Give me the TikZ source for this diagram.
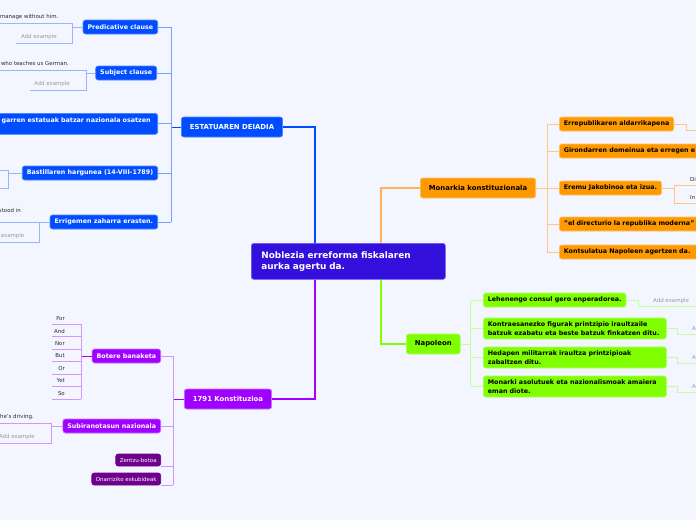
\documentclass[tikz,border=0pt]{standalone}
\usepackage{fontspec}
\setmainfont{DejaVu Sans}
\definecolor{cbg}{RGB}{243,246,254}
\definecolor{cmain}{RGB}{52,16,220}
\definecolor{cmainb}{RGB}{110,90,240}
\definecolor{cblue}{RGB}{0,76,255}
\definecolor{cblueb}{RGB}{80,130,255}
\definecolor{cbluel}{RGB}{120,160,255}
\definecolor{cbluesub}{RGB}{150,180,255}
\definecolor{corange}{RGB}{255,153,0}
\definecolor{corangeb}{RGB}{255,190,100}
\definecolor{corangel}{RGB}{255,200,130}
\definecolor{corangem}{RGB}{255,180,80}
\definecolor{cgreen}{RGB}{128,255,0}
\definecolor{cgreenb}{RGB}{170,255,90}
\definecolor{cgreenl}{RGB}{195,255,150}
\definecolor{cpurple}{RGB}{160,0,255}
\definecolor{cpurpleb}{RGB}{195,110,255}
\definecolor{cpurplel}{RGB}{210,150,255}
\definecolor{cdpurple}{RGB}{110,0,140}
\definecolor{cgreytext}{RGB}{150,152,165}
\definecolor{cdark}{RGB}{40,40,50}
\begin{document}
\begin{tikzpicture}[x=1pt,y=-1pt,
  box/.style={rounded corners=2.5pt, line width=0.7pt, inner ysep=0pt},
  centralbox/.style={box, fill=cmain, draw=cmainb, text=white, align=left,
     font=\fontsize{8.9}{11}\selectfont\bfseries, inner xsep=10pt,
     text width=174pt, minimum height=36pt},
  mainbox/.style={box, font=\fontsize{6.9}{8.5}\selectfont\bfseries, inner xsep=8.5pt, minimum height=20pt},
  subbox/.style={box, align=left, font=\fontsize{6.35}{8.4}\selectfont\bfseries, inner xsep=4.5pt, minimum height=14pt},
  tinybox/.style={box, fill=cdpurple, draw=cdpurple, text=white, font=\fontsize{5.5}{7}\selectfont, inner xsep=4pt, minimum height=12pt},
  bluefill/.style={fill=cblue, draw=cblueb, text=white},
  orangefill/.style={fill=corange, draw=corangeb, text=black},
  greenfill/.style={fill=cgreen, draw=cgreenb, text=black},
  purplefill/.style={fill=cpurple, draw=cpurpleb, text=white},
  smalltext/.style={inner sep=0pt, text=cdark, font=\fontsize{5.45}{7}\selectfont},
  greytext/.style={inner sep=0pt, text=cgreytext, font=\fontsize{5.45}{7}\selectfont},
  bluemain/.style={draw=cblue, line width=1.4pt},
  bluelink/.style={draw=cbluel, line width=1pt},
  bluesub/.style={draw=cbluesub, line width=0.9pt},
  orangemain/.style={draw=corangem, line width=1.4pt},
  orangelink/.style={draw=corangel, line width=1pt},
  greenmain/.style={draw=cgreen, line width=1.4pt},
  greenlink/.style={draw=cgreenl, line width=1pt},
  purplemain/.style={draw=cpurple, line width=1.4pt},
  purplelink/.style={draw=cpurplel, line width=1pt}
]
\useasboundingbox (0,0) rectangle (696,520);
\fill[cbg] (0,0) rectangle (696,520);
\clip (0,0) rectangle (696,520);

% central
\node[centralbox, anchor=north west] (c) at (251,243) {Noblezia erreforma fiskalaren\\aurka agertu da.};

% ===== blue branch =====
\node[mainbox, bluefill, anchor=west] (estat) at (181,127) {ESTATUAREN DEIADIA};
\draw[bluemain] ([xshift=64pt]c.north west) |- (estat.east);
\coordinate (bj) at (171,127);
\draw[draw=cblue, line width=1pt] (estat.west) -- (bj);

\node[subbox, bluefill, anchor=east] (pred) at (158,27) {Predicative clause};
\node[subbox, bluefill, anchor=east] (subj) at (157,73) {Subject clause};
\node[subbox, bluefill, anchor=north east, align=right, text width=190pt, minimum height=21pt, inner xsep=7pt] (batz) at (158,113) {garren estatuak batzar nazionala osatzen\\~};
\node[subbox, bluefill, anchor=east] (bast) at (158,173) {Bastillaren hargunea (14-VIII-1789)};
\node[subbox, bluefill, anchor=east] (err) at (158,222) {Errigemen zaharra erasten.};
\foreach \n in {pred,subj,bast,err}{\draw[bluelink] (\n.east) -- (\n.east -| bj);}
\draw[bluelink] (batz.east |- 0,123.5) coordinate (batzc) -- (batzc -| bj);
\draw[bluelink] (pred.east -| bj) -- (err.east -| bj);

% predicative children
\node[smalltext, anchor=east] (pt1) at (58.5,17) {manage without him.};
\node[greytext, anchor=east] (pt2) at (57,37) {Add example};
\coordinate (pa) at (0,23); \coordinate (pb) at (72,23);
\coordinate (pc) at (72,43); \coordinate (pd) at (16,43);
\draw[bluesub] (pred.west) -- (pred.west -| pb);
\draw[bluesub] (pa) -- (pb) -- (pc) -- (pd);

% subject children
\node[smalltext, anchor=east] (st1) at (69,63) {who teaches us German.};
\node[greytext, anchor=east] (st2) at (70,84) {Add example};
\coordinate (sa) at (0,70); \coordinate (sb) at (86,70);
\coordinate (sc) at (86,90); \coordinate (sd) at (30,90);
\draw[bluesub] (subj.west) -- (subj.west -| sb);
\draw[bluesub] (sa) -- (sb) -- (sc) -- (sd);

% bastillaren children
\coordinate (ba) at (0,170); \coordinate (bb) at (8,170);
\coordinate (bc) at (8,188); \coordinate (bd) at (0,188);
\draw[bluesub] (bast.west) -- (bast.west -| bb);
\draw[bluesub] (ba) -- (bb) -- (bc) -- (bd);

% errigemen children
\node[smalltext, anchor=east] (et1) at (21,210) {stood in};
\node[greytext, anchor=east] (et2) at (24.5,236) {example};
\coordinate (ea) at (0,222); \coordinate (eb) at (39,222);
\coordinate (ec) at (39,242); \coordinate (ed) at (0,242);
\draw[bluesub] (err.west) -- (eb);
\draw[bluesub] (ea) -- (eb) -- (ec) -- (ed);

% ===== orange branch =====
\node[mainbox, orangefill, anchor=west] (mon) at (420,188) {Monarkia konstituzionala};
\draw[orangemain] ([xshift=130pt]c.north west) |- (mon.west);
\coordinate (oj) at (547,188);
\draw[orangelink] (mon.east) -- (oj);
\node[subbox, orangefill, anchor=west] (errep) at (559,124) {Errepublikaren aldarrikapena};
\node[subbox, orangefill, anchor=west, text width=141pt] (girond) at (559,151) {Girondarren domeinua eta erregen e};
\node[subbox, orangefill, anchor=west] (eremu) at (559,188) {Eremu Jakobinoa eta izua.};
\node[subbox, orangefill, anchor=west, text width=136pt] (direct) at (559,224) {"el directurio la republika moderna"};
\node[subbox, orangefill, anchor=west, text width=136pt] (kontsul) at (559,252) {Kontsulatua Napoleen agertzen da.};
\foreach \n in {errep,girond,eremu,direct,kontsul}{\draw[orangelink] (\n.west) -- (\n.west -| oj);}
\draw[orangelink] (errep.west -| oj) -- (kontsul.west -| oj);
% errepublikaren child
\coordinate (ra) at (686,124); \coordinate (rb) at (686,130); \coordinate (rc) at (697,130);
\draw[orangelink] (errep.east) -- (ra) -- (rb) -- (rc);
% eremu children
\node[smalltext, anchor=west] (dt1) at (690,179) {Di};
\node[smalltext, anchor=west] (dt2) at (690,198) {In};
\coordinate (ma) at (697,185); \coordinate (mb) at (674,185);
\coordinate (mc) at (674,203); \coordinate (md) at (697,203);
\draw[orangelink] (eremu.east) -- (eremu.east -| mb);
\draw[orangelink] (ma) -- (mb) -- (mc) -- (md);

% ===== green branch =====
\node[mainbox, greenfill, anchor=west] (nap) at (406,344) {Napoleon};
\draw[greenmain] ([xshift=130pt]c.south west) |- (nap.west);
\coordinate (gj) at (470,344);
\draw[greenlink] (nap.east) -- (gj);
\node[subbox, greenfill, anchor=west] (leh) at (483,300) {Lehenengo consul gero enperadorea.};
\node[subbox, greenfill, anchor=west, minimum height=21pt, text width=174pt] (kontra) at (483,328.5) {Kontraesanezko figurak printzipio iraultzaile\\batzuk ezabatu eta beste batzuk finkatzen ditu.};
\node[subbox, greenfill, anchor=west, minimum height=21pt, text width=174pt] (hedap) at (483,357.5) {Hedapen militarrak iraultza printzipioak\\zabaltzen ditu.};
\node[subbox, greenfill, anchor=west, minimum height=21pt, text width=174pt] (monarki) at (483,386.5) {Monarki asolutuek eta nazionalismoak amaiera\\eman diote.};
\foreach \n in {leh,kontra,hedap,monarki}{\draw[greenlink] (\n.west) -- (\n.west -| gj);}
\draw[greenlink] (leh.west -| gj) -- (monarki.west -| gj);
% green children
\node[greytext, anchor=west] (lt) at (653,301) {Add example};
\coordinate (la) at (638,300); \coordinate (lb) at (638,306); \coordinate (lc) at (697,306);
\draw[greenlink] (leh.east) -- (la) -- (lb) -- (lc);
\node[greytext, anchor=west] (kt) at (692,329) {A};
\coordinate (ka) at (677,328.5); \coordinate (kb) at (677,334); \coordinate (kc) at (697,334);
\draw[greenlink] (kontra.east) -- (ka) -- (kb) -- (kc);
\node[greytext, anchor=west] (ht) at (692,358) {A};
\coordinate (ha) at (677,357.5); \coordinate (hb) at (677,363); \coordinate (hc) at (697,363);
\draw[greenlink] (hedap.east) -- (ha) -- (hb) -- (hc);
\node[greytext, anchor=west] (mt) at (692,387) {A};
\coordinate (na) at (677,386.5); \coordinate (nb) at (677,392); \coordinate (nc) at (697,392);
\draw[greenlink] (monarki.east) -- (na) -- (nb) -- (nc);

% ===== purple branch =====
\node[mainbox, purplefill, anchor=west] (kon) at (184,399) {1791 Konstituzioa};
\draw[purplemain] ([xshift=64pt]c.south west) |- (kon.east);
\coordinate (pj) at (173,399);
\draw[draw=cpurple, line width=1pt] (kon.west) -- (pj);
\node[subbox, purplefill, anchor=east] (bot) at (161,356) {Botere banaketa};
\node[subbox, purplefill, anchor=east] (sub) at (161,426) {Subiranotasun nazionala};
\node[tinybox, anchor=east] (zen) at (161,460) {Zentzu-botoa};
\node[tinybox, anchor=east] (ona) at (161,479) {Onarriziko eskubideak};
\draw[purplelink] (bot.east) -- (bot.east -| pj);
\draw[purplelink] (sub.east) -- (sub.east -| pj);
\draw[purplelink] (zen.south east) -- (zen.south east -| pj);
\draw[purplelink] (ona.south east) -- (ona.south east -| pj);
\draw[purplelink] (bot.east -| pj) -- (ona.south east -| pj);

% botere children
\coordinate (bj2) at (81,356);
\draw[draw=cpurple, line width=0.9pt] (bot.west) -- (bj2);
\foreach \w [count=\i from 0] in {For,And,Nor,But,Or,Yet,So}{
  \pgfmathsetmacro{\yy}{324+12.5*\i}
  \node[smalltext, anchor=east] (w\i) at (65,\yy-5.5) {\w};
  \coordinate (wl\i) at (52,\yy);
  \draw[purplelink, line width=0.9pt] (wl\i) -- (wl\i -| bj2);
}
\draw[purplelink, line width=0.9pt] (wl0 -| bj2) -- (wl6 -| bj2);

% subiranotasun children
\node[smalltext, anchor=east] (ut1) at (34,417) {he's driving.};
\node[greytext, anchor=east] (ut2) at (35,437) {Add example};
\coordinate (ua) at (0,423); \coordinate (ub) at (51,423);
\coordinate (uc) at (51,443); \coordinate (ud) at (0,443);
\draw[purplelink, line width=0.9pt] (sub.west) -- (sub.west -| ub);
\draw[purplelink, line width=0.9pt] (ua) -- (ub) -- (uc) -- (ud);
\end{tikzpicture}
\end{document}
